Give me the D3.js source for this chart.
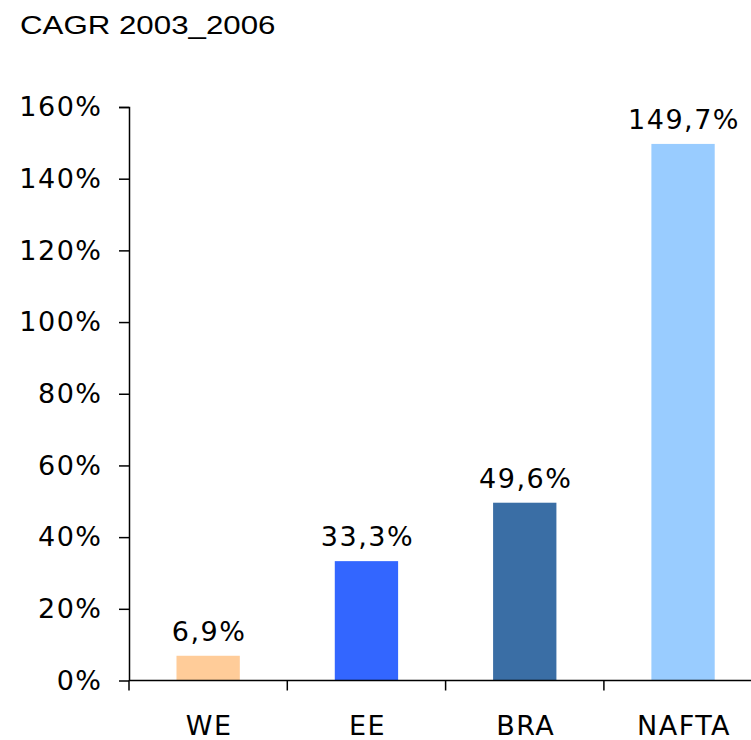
<!DOCTYPE html>
<html>
<head>
<meta charset="utf-8">
<script src="https://cdn.jsdelivr.net/npm/d3@7"></script>
<style>
  body { margin: 0; background: #fff; }
  svg text { fill: #000; }
</style>
</head>
<body>
<div id="chart-area"></div>
<script>
// data
var regions = ["WE", "EE", "BRA", "NAFTA"];
var cagr = [6.9, 33.3, 49.6, 149.7];
var barColors = ["#FFCC99", "#3366FF", "#3A6EA5", "#99CCFF"];
var yTicks = [0, 20, 40, 60, 80, 100, 120, 140, 160];

var W = 751, H = 740;
var margin = {top: 107, left: 129},
    height = 680.5 - margin.top,
    width = 158.3 * regions.length;

var labelFont = "DejaVu Sans, Verdana, sans-serif";

var svg = d3.select("#chart-area")
  .append("svg")
    .attr("width", W)
    .attr("height", H);

var g = svg.append("g")
    .attr("transform", "translate(" + margin.left + "," + margin.top + ")");

var data = regions.map(function(r, i) {
    return {region: r, value: cagr[i], color: barColors[i]};
});

// title (the reference text is stretched sideways a little)
svg.append("text")
    .attr("transform", "translate(20,33.5) scale(1.18,1)")
    .attr("font-family", "Liberation Sans, Arial, sans-serif")
    .attr("font-size", "26.5px")
    .text("CAGR 2003_2006");

var x = d3.scaleBand()
    .domain(regions)
    .range([0, width])
    .paddingInner(0.6)
    .paddingOuter(0.3);

var y = d3.scaleLinear()
    .domain([0, 160])
    .range([height, 0]);

var fmt = function(v) { return d3.format(".1f")(v).replace(".", ",") + "%"; };

// bars
g.selectAll("rect.bar")
  .data(data)
  .enter()
  .append("rect")
    .attr("class", "bar")
    .attr("x", function(d) { return x(d.region); })
    .attr("y", function(d) { return y(d.value); })
    .attr("width", x.bandwidth())
    .attr("height", function(d) { return height - y(d.value); })
    .attr("fill", function(d) { return d.color; });

// value labels
g.selectAll("text.val")
  .data(data)
  .enter()
  .append("text")
    .attr("class", "val")
    .attr("x", function(d) { return x(d.region) + x.bandwidth() / 2 + 1; })
    .attr("y", function(d) { return y(d.value) - 15; })
    .attr("text-anchor", "middle")
    .attr("font-family", labelFont)
    .attr("font-size", "27px")
    .attr("letter-spacing", "1.5px")
    .text(function(d) { return fmt(d.value); });

// y axis
var yAxis = g.append("g")
    .call(d3.axisLeft(y).tickValues(yTicks).tickSize(10).tickPadding(18)
      .tickFormat(function(d) { return d + "%"; }));
yAxis.select(".domain").attr("d", "M-10,0.5H0.5V" + (height + 0.5));
yAxis.selectAll("line").attr("stroke-width", 1.5);
yAxis.select(".domain").attr("stroke-width", 1.5);
yAxis.selectAll("text")
    .attr("font-family", labelFont)
    .attr("font-size", "27px")
    .attr("letter-spacing", "1.5px")
    .attr("dx", "1.5")
    .attr("fill", "#000");

// x axis: ticks sit on category boundaries
var boundaries = d3.range(regions.length + 1).map(function(i) { return i * x.step(); });
var xAxis = g.append("g")
    .attr("transform", "translate(0," + height + ")");
xAxis.append("line")
    .attr("x1", 0).attr("x2", width)
    .attr("stroke", "#000").attr("stroke-width", 1.5);
xAxis.selectAll("line.tick")
  .data(boundaries)
  .enter()
  .append("line")
    .attr("class", "tick")
    .attr("x1", function(d) { return d; })
    .attr("x2", function(d) { return d; })
    .attr("y1", 0).attr("y2", 10)
    .attr("stroke", "#000").attr("stroke-width", 1.5);
xAxis.selectAll("text")
  .data(regions)
  .enter()
  .append("text")
    .attr("x", function(d) { return x(d) + x.bandwidth() / 2 + 1; })
    .attr("y", 54.5)
    .attr("text-anchor", "middle")
    .attr("font-family", labelFont)
    .attr("font-size", "27px")
    .attr("letter-spacing", "1.5px")
    .text(function(d) { return d; });
</script>
</body>
</html>
